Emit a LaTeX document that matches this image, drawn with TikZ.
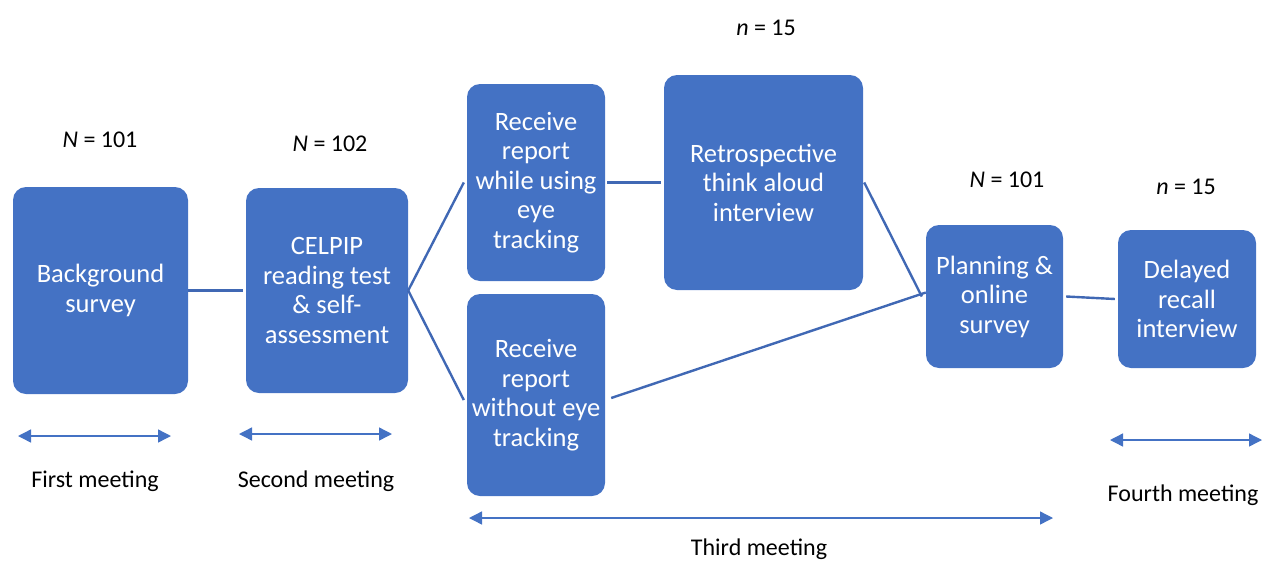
\documentclass[tikz,border=0pt]{standalone}
\usepackage{fontspec}
\setmainfont{Carlito}
\usetikzlibrary{arrows.meta}
\definecolor{officeblue}{HTML}{4472C4}
\definecolor{linkblue}{HTML}{4068B4}
\begin{document}
\begin{tikzpicture}[x=1pt,y=-1pt,
  box/.style={fill=officeblue, rounded corners=13pt, inner sep=0pt, text=white, align=center, font=\fontsize{26.5}{29.5}\selectfont},
  link/.style={draw=linkblue, line width=2.4pt},
  span/.style={draw=officeblue, line width=1.4pt, {Triangle[length=13pt,width=13pt]}-{Triangle[length=13pt,width=13pt]}},
  tag/.style={font=\fontsize{24}{28}\selectfont}]
\useasboundingbox (0,0) rectangle (1262,563);
% boxes
\node[box, minimum width=175pt, minimum height=207pt] (bg) at (100.5,290.5) {Background\\survey};
\node[box, minimum width=162pt, minimum height=205pt] (celpip) at (327,290.5) {CELPIP\\reading test\\\& self-\\assessment};
\node[box, minimum width=138pt, minimum height=197pt] (rwith) at (536,182.5) {Receive\\report\\while using\\eye\\tracking};
\node[box, minimum width=199pt, minimum height=215pt] (retro) at (763.5,182.5) {Retrospective\\think aloud\\interview};
\node[box, minimum width=138pt, minimum height=202pt] (rwithout) at (536,395) {Receive\\report\\without eye\\tracking};
\node[box, minimum width=137pt, minimum height=143pt] (plan) at (994.5,296.5) {Planning \&\\online\\survey};
\node[box, minimum width=138pt, minimum height=138pt] (recall) at (1187,299) {Delayed\\recall\\interview};
% sample sizes
\node[tag] (n1) at (100,140) {\textit{N} = 101};
\node[tag] (n2) at (330,144) {\textit{N} = 102};
\node[tag] (n3) at (766,28) {\textit{n} = 15};
\node[tag] (n4) at (1007,180) {\textit{N} = 101};
\node[tag] (n5) at (1186,187) {\textit{n} = 15};
% connectors
\draw[link] (bg.east) -- ([xshift=-3pt]celpip.west);
\draw[link] (celpip.east) -- ([xshift=-3pt]rwith.west);
\draw[link] (celpip.east) -- ([xshift=-3pt,yshift=-5pt]rwithout.west);
\draw[link] ([xshift=2pt]rwith.east) -- ([xshift=-3pt]retro.west);
\draw[link] ([xshift=1pt]retro.east) -- ([xshift=-4pt]plan.west);
\draw[link] ([xshift=6pt,yshift=-3pt]rwithout.east) -- ([yshift=4pt]plan.west);
\draw[link] ([xshift=3pt]plan.east) -- ([xshift=-3pt]recall.west);
% meetings
\coordinate (m1a) at (18,436);
\coordinate (m1b) at (171,436);
\coordinate (m2a) at (239,434);
\coordinate (m2b) at (392,434);
\coordinate (m3a) at (469,518);
\coordinate (m3b) at (1053,518);
\coordinate (m4a) at (1110,440);
\coordinate (m4b) at (1262,440);
\draw[span] (m1a) -- (m1b);
\draw[span] (m2a) -- (m2b);
\draw[span] (m3a) -- (m3b);
\draw[span] (m4a) -- (m4b);
\node[tag] (t1) at (95,481) {First meeting};
\node[tag] (t2) at (316,481) {Second meeting};
\node[tag, anchor=base] (t3) at (759,555) {Third meeting};
\node[tag] (t4) at (1183,495) {Fourth meeting};
\end{tikzpicture}
\end{document}
